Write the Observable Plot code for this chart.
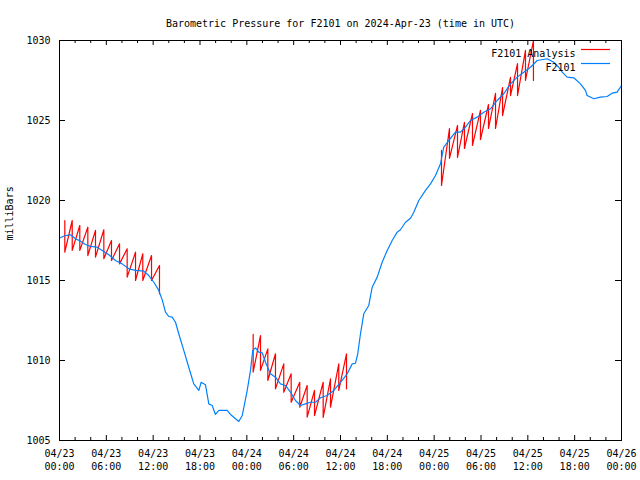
<!DOCTYPE html>
<html><head><meta charset="utf-8">
<script src="https://cdn.jsdelivr.net/npm/d3@7"></script>
<script src="https://cdn.jsdelivr.net/npm/@observablehq/plot@0.6"></script>
<style>html,body{margin:0;padding:0;background:#fff} svg{display:block}</style>
</head><body><div id="chart"></div>
<script>
const startTime = Date.UTC(2024, 3, 23, 0, 0);
const titleText = "Barometric Pressure for F2101 on 2024-Apr-23 (time in UTC)";
const yLabelText = "milliBars";
const seriesNames = ["F2101 Analysis", "F2101"];
const seriesColors = ["#ff0000", "#0080ff"];

const majorTickHours = [0, 6, 12, 18, 24, 30, 36, 42, 48, 54, 60, 66, 72];
const minorTickHours = [2, 4, 8, 10, 14, 16, 20, 22, 26, 28, 32, 34, 38, 40, 44, 46, 50, 52, 56, 58, 62, 64, 68, 70];
const yTicks = [1005, 1010, 1015, 1020, 1025, 1030];

// Observed F2101 pressure (hours since 04/23 00:00 UTC, mb)
const blueHours = [0, 0.77, 1.41, 2.05, 2.69, 3.33, 3.97, 4.83, 5.47, 6.32, 7.17, 8.03, 8.88, 9.74, 10.8, 11.44, 12.08, 12.72, 13.16, 13.58, 14.0, 14.44, 14.86, 15.28, 15.92, 16.56, 17.2, 17.85, 18.15, 18.7, 19.13, 19.56, 19.98, 20.41, 21.48, 21.91, 22.97, 23.41, 24.05, 24.47, 24.76, 25.11, 25.53, 25.97, 26.39, 27.03, 27.67, 28.31, 28.95, 29.59, 30.23, 30.87, 31.51, 32.15, 32.8, 33.44, 34.29, 35.14, 36.0, 36.86, 37.5, 37.92, 38.21, 38.56, 38.98, 39.62, 40.06, 40.7, 41.34, 41.98, 42.62, 43.26, 43.68, 44.33, 44.97, 45.39, 46.03, 46.89, 47.53, 48.17, 48.81, 49.23, 49.87, 50.73, 51.37, 52.01, 52.65, 53.51, 54.36, 55.22, 56.07, 56.92, 57.78, 58.64, 59.48, 60.34, 61.2, 62.48, 63.32, 63.96, 64.4, 65.04, 65.89, 66.74, 67.38, 67.6, 68.45, 69.3, 70.16, 70.8, 71.44, 72];
const blueValues = [1017.66, 1017.81, 1017.86, 1017.61, 1017.46, 1017.25, 1017.13, 1017.08, 1016.88, 1016.61, 1016.25, 1016.04, 1015.73, 1015.63, 1015.58, 1015.31, 1014.89, 1014.38, 1013.79, 1013.02, 1012.75, 1012.71, 1012.39, 1011.67, 1010.63, 1009.58, 1008.54, 1008.13, 1008.64, 1008.48, 1007.29, 1007.19, 1006.63, 1006.88, 1006.88, 1006.63, 1006.19, 1006.56, 1008.13, 1009.38, 1010.63, 1010.79, 1010.52, 1010.48, 1009.89, 1009.17, 1008.96, 1008.54, 1008.44, 1008.02, 1007.5, 1007.19, 1007.29, 1007.39, 1007.39, 1007.67, 1007.81, 1008.13, 1008.64, 1009.17, 1009.79, 1009.83, 1010.42, 1011.67, 1012.92, 1013.44, 1014.58, 1015.21, 1016.14, 1016.88, 1017.5, 1018.02, 1018.17, 1018.64, 1018.89, 1019.27, 1020.0, 1020.63, 1021.04, 1021.56, 1022.29, 1023.33, 1023.75, 1024.27, 1024.27, 1024.58, 1025.0, 1025.21, 1025.52, 1025.73, 1026.25, 1026.67, 1027.29, 1027.71, 1028.02, 1028.33, 1028.75, 1028.86, 1028.64, 1028.33, 1028.02, 1027.71, 1027.67, 1027.29, 1026.88, 1026.56, 1026.36, 1026.46, 1026.5, 1026.71, 1026.77, 1027.19];

// Analysis (sawtooth): hour of each analysis step, its high and low values
const red1Hours = [0.68, 1.63, 2.6, 3.63, 4.61, 5.68, 6.66, 7.69, 8.67, 9.74, 10.67, 11.79, 12.81];
const red1High = [1018.75, 1018.75, 1018.44, 1018.33, 1018.13, 1018.17, 1017.5, 1017.29, 1016.98, 1016.77, 1016.67, 1016.56, 1015.94];
const red1Low  = [1016.77, 1016.88, 1016.88, 1016.56, 1016.46, 1016.36, 1016.25, 1016.04, 1015.21, 1015.0, 1015.0, 1015.0, 1014.17];
const red2Hours = [24.81, 25.75, 26.69, 27.67, 28.73, 29.68, 30.78, 31.73, 32.67, 33.78, 34.72, 35.78, 36.77];
const red2High = [1011.63, 1011.56, 1010.73, 1010.42, 1009.79, 1009.17, 1008.64, 1008.44, 1008.13, 1008.64, 1008.85, 1009.79, 1010.42];
const red2Low  = [1009.27, 1009.38, 1008.75, 1008.23, 1008.02, 1007.39, 1007.08, 1006.46, 1006.56, 1006.44, 1007.08, 1008.13, 1008.23];
const red3Hours = [48.94, 49.96, 50.99, 51.88, 52.91, 53.93, 54.96, 55.86, 56.76, 57.78, 58.68, 59.7, 60.72];
const red3High = [1023.13, 1024.5, 1024.69, 1024.88, 1025.44, 1025.63, 1026.0, 1026.69, 1027.06, 1027.69, 1028.56, 1029.38, 1030.0];
const red3Low  = [1020.94, 1022.63, 1022.69, 1023.25, 1023.44, 1023.81, 1024.5, 1024.5, 1025.31, 1026.56, 1026.56, 1027.5, 1027.5];

const toDate = h => new Date(startTime + h * 3600e3);

const blueData = blueHours.map((h, i) => ({t: toDate(h), v: blueValues[i]}));
const redData = [];
[[red1Hours, red1High, red1Low], [red2Hours, red2High, red2Low], [red3Hours, red3High, red3Low]].forEach(([hs, hi, lo], w) => {
  hs.forEach((h, i) => {
    redData.push({t: toDate(h), v: hi[i], w});
    redData.push({t: toDate(h), v: lo[i], w});
  });
});

const W = 640, H = 480, mL = 59, mR = 19, mT = 40, mB = 40;
const plotH = H - mT - mB, plotW = W - mL - mR;
const majorDates = majorTickHours.map(toDate);
const minorDates = minorTickHours.map(toDate);
const fmt = d3.utcFormat("%m/%d\n%H:%M");

const chart = Plot.plot({
  width: W, height: H,
  marginLeft: mL, marginRight: mR, marginTop: mT, marginBottom: mB,
  style: {fontFamily: "'DejaVu Sans Mono', monospace", fontSize: "10px", background: "#fff", color: "#000"},
  x: {type: "utc", domain: [toDate(0), toDate(72)]},
  y: {domain: [1005, 1030]},
  marks: [
    Plot.line(redData, {x: "t", y: "v", z: "w", stroke: seriesColors[0], strokeWidth: 1.2}),
    Plot.line(blueData, {x: "t", y: "v", stroke: seriesColors[1], strokeWidth: 1.2}),
    Plot.frame({stroke: "#000", strokeWidth: 1}),
    Plot.tickX(majorDates, {x: d => d, insetTop: plotH - 5, stroke: "#000"}),
    Plot.tickX(majorDates, {x: d => d, insetBottom: plotH - 5, stroke: "#000"}),
    Plot.tickX(minorDates, {x: d => d, insetTop: plotH - 3, stroke: "#000"}),
    Plot.tickX(minorDates, {x: d => d, insetBottom: plotH - 3, stroke: "#000"}),
    Plot.tickY(yTicks, {y: d => d, insetRight: plotW - 6, stroke: "#000"}),
    Plot.tickY(yTicks, {y: d => d, insetLeft: plotW - 6, stroke: "#000"}),
    Plot.axisX(majorDates, {tickSize: 0, tickPadding: 7, tickFormat: fmt, lineHeight: 1.3, label: null, fontSize: 10}),
    Plot.axisY(yTicks, {tickSize: 0, tickPadding: 9, tickFormat: d => String(d), label: null, fontSize: 10}),
    Plot.text([titleText], {frameAnchor: "top", dy: -21, fontSize: 10}),
    Plot.text([yLabelText], {frameAnchor: "left", rotate: -90, dx: -50, fontSize: 10}),
    Plot.text([seriesNames[0]], {frameAnchor: "top-right", dx: -46, dy: 9, textAnchor: "end", fontSize: 10}),
    Plot.text([seriesNames[1]], {frameAnchor: "top-right", dx: -46, dy: 23, textAnchor: "end", fontSize: 10})
  ]
});

// legend swatches
const svg = d3.select(chart);
[0, 1].forEach(i => {
  svg.append("line")
    .attr("x1", W - mR - 40).attr("x2", W - mR - 11)
    .attr("y1", mT + 9.5 + 14 * i).attr("y2", mT + 9.5 + 14 * i)
    .attr("stroke", seriesColors[i])
    .style("stroke", seriesColors[i])
    .style("stroke-width", "1.2px");
});
document.getElementById("chart").appendChild(chart);
</script>
</body></html>
